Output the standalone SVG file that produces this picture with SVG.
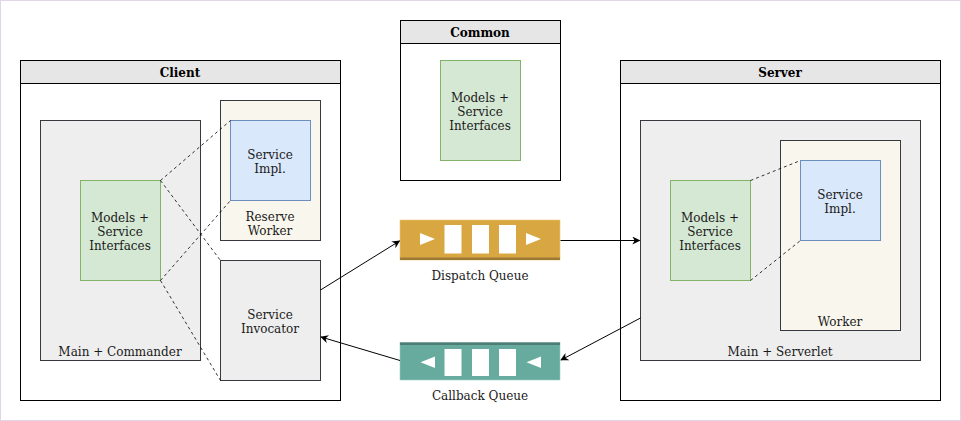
<svg xmlns="http://www.w3.org/2000/svg" width="961" height="421" viewBox="0 0 961 421">
<defs>
<marker id="arr" viewBox="0 0 10 10" refX="9" refY="5" markerWidth="8" markerHeight="8" markerUnits="userSpaceOnUse" orient="auto">
<path d="M0,0 L10,5 L0,10 L3,5 Z" fill="#000"/>
</marker>
<style>
text{font-family:"DejaVu Serif","Liberation Serif",serif;font-size:12px;fill:#1a1a1a;text-anchor:middle}
.t{font-weight:bold;fill:#000}
.pool{fill:#fff;stroke:#000;stroke-width:1}
.hdr{fill:#e6e6e6;stroke:#000;stroke-width:1}
.gray{fill:#eeeeee;stroke:#36393d}
.cream{fill:#f9f7ed;stroke:#36393d}
.green{fill:#d5e8d4;stroke:#82b366}
.blue{fill:#dae8fc;stroke:#6c8ebf}
.dash{fill:none;stroke:#000;stroke-dasharray:3 3;stroke-width:0.8}
.conn{fill:none;stroke:#000;stroke-width:1;marker-end:url(#arr)}
.w{fill:#fff}
</style>
</defs>
<rect x="0.5" y="0.5" width="960" height="420" fill="#fff" stroke="#e1d5e7"/>

<g id="client">
<rect class="pool" x="20.5" y="60.5" width="320" height="340"/>
<rect class="hdr" x="20.5" y="60.5" width="320" height="23"/>
<text class="t" x="180" y="77">Client</text>
</g>
<g id="main-commander">
<rect class="gray" x="40.5" y="120.5" width="160" height="240"/>
<text x="120" y="356">Main + Commander</text>
</g>
<g id="client-models">
<rect class="green" x="80.5" y="180.5" width="80" height="100"/>
<text x="120" y="222">Models +</text>
<text x="120" y="236">Service</text>
<text x="120" y="250">Interfaces</text>
</g>
<g id="reserve-worker">
<rect class="cream" x="220.5" y="100.5" width="100" height="140"/>
<text x="270" y="221">Reserve</text>
<text x="270" y="235">Worker</text>
</g>
<g id="client-impl">
<rect class="blue" x="230.5" y="120.5" width="80" height="80"/>
<text x="270" y="159">Service</text>
<text x="270" y="173">Impl.</text>
</g>
<g id="invocator">
<rect class="gray" x="220.5" y="260.5" width="100" height="120"/>
<text x="270" y="319">Service</text>
<text x="270" y="333">Invocator</text>
</g>

<g id="common">
<rect class="pool" x="400.5" y="20.5" width="160" height="160"/>
<rect class="hdr" x="400.5" y="20.5" width="160" height="23"/>
<text class="t" x="480" y="37">Common</text>
</g>
<g id="common-models">
<rect class="green" x="440.5" y="60.5" width="80" height="100"/>
<text x="480" y="102">Models +</text>
<text x="480" y="116">Service</text>
<text x="480" y="130">Interfaces</text>
</g>

<g id="dispatch-queue">
<rect x="400" y="220" width="160" height="40" fill="#d9a741" stroke="#e8c57a" stroke-width="0.6"/>
<rect x="400" y="257.5" width="160" height="2.5" fill="#9c7a34"/>
<path d="M420,233 L435,239 L420,245 Z" class="w"/>
<rect x="444.5" y="225" width="17" height="28.5" class="w"/>
<rect x="472" y="225" width="17" height="28.5" class="w"/>
<rect x="499" y="225" width="17" height="28.5" class="w"/>
<path d="M526,233 L541,239 L526,245 Z" class="w"/>
<text x="480" y="280">Dispatch Queue</text>
</g>

<g id="callback-queue">
<rect x="400" y="342.5" width="160" height="37.5" fill="#67ab9f" stroke="#9fcdc5" stroke-width="0.6"/>
<rect x="400" y="342.5" width="160" height="2.5" fill="#4e7d75"/>
<path d="M435,356.5 L420.5,362.3 L435,368 Z" class="w"/>
<rect x="444.5" y="349" width="17" height="27" class="w"/>
<rect x="472" y="349" width="17" height="27" class="w"/>
<rect x="499" y="349" width="17" height="27" class="w"/>
<path d="M541,356.5 L526.5,362.3 L541,368 Z" class="w"/>
<text x="480" y="400">Callback Queue</text>
</g>

<g id="server">
<rect class="pool" x="620.5" y="60.5" width="320" height="340"/>
<rect class="hdr" x="620.5" y="60.5" width="320" height="23"/>
<text class="t" x="780" y="77">Server</text>
</g>
<g id="main-serverlet">
<rect class="gray" x="640.5" y="120.5" width="280" height="240"/>
<text x="780" y="356">Main + Serverlet</text>
</g>
<g id="server-models">
<rect class="green" x="670.5" y="180.5" width="80" height="100"/>
<text x="710" y="222">Models +</text>
<text x="710" y="236">Service</text>
<text x="710" y="250">Interfaces</text>
</g>
<g id="worker">
<rect class="cream" x="780.5" y="140.5" width="120" height="190"/>
<text x="840" y="326">Worker</text>
</g>
<g id="server-impl">
<rect class="blue" x="800.5" y="160.5" width="80" height="80"/>
<text x="840" y="199">Service</text>
<text x="840" y="213">Impl.</text>
</g>

<g id="connectors">
<path class="dash" d="M160.5,180.5 L230.5,120.5"/>
<path class="dash" d="M160.5,280.5 L230.5,200.5"/>
<path class="dash" d="M160.5,180.5 L220.5,260.5"/>
<path class="dash" d="M160.5,280.5 L220.5,380.5"/>
<path class="dash" d="M750.5,180.5 L800.5,160.5"/>
<path class="dash" d="M750.5,280.5 L800.5,240.5"/>
<path class="conn" d="M320.5,290 L399.5,241"/>
<path class="conn" d="M560.5,240.5 L639.5,240.5"/>
<path class="conn" d="M640.5,318 L561,360"/>
<path class="conn" d="M400,360.5 L321,337"/>
</g>
</svg>
